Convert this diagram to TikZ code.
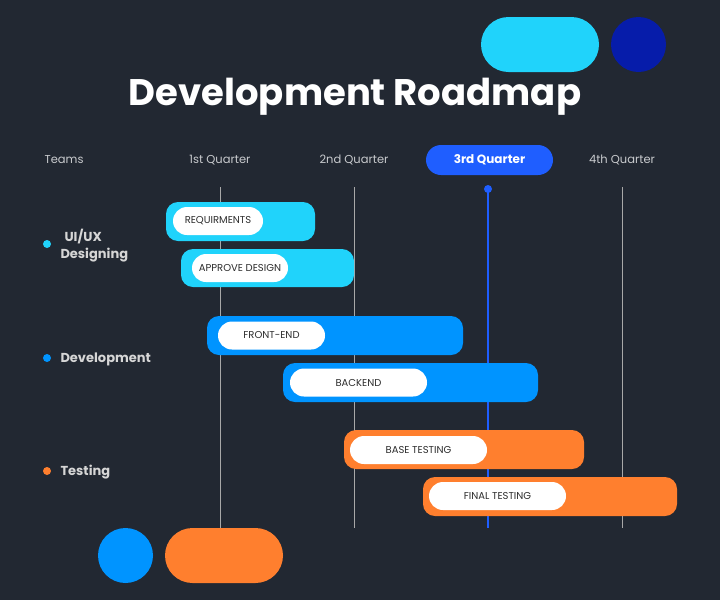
\documentclass[tikz,border=0pt]{standalone}
\usepackage{fontspec}
\setmainfont{Poppins}
\definecolor{bg}{HTML}{222832}
\definecolor{cyanbar}{HTML}{20D3FB}
\definecolor{bluebar}{HTML}{0094FF}
\definecolor{orangebar}{HTML}{FF7F2E}
\definecolor{navy}{HTML}{061CAA}
\definecolor{accent}{HTML}{1F5EFF}
\definecolor{gridgrey}{HTML}{A8A8A8}
\definecolor{headtext}{HTML}{C9CBCE}
\definecolor{teamtext}{HTML}{D6D6D6}
\definecolor{tagtext}{HTML}{2E2E2E}
\begin{document}
\begin{tikzpicture}[x=1pt,y=-1pt,
  bar/.style={rounded corners=12pt, inner sep=0pt, draw=none},
  tag/.style={fill=white, rounded corners=14pt, inner sep=0pt, minimum height=28pt,
    font=\fontsize{10}{12}\selectfont, text=tagtext},
  head/.style={font=\fontsize{11.5}{13}\selectfont, text=headtext},
  team/.style={font=\bfseries\fontsize{13}{17}\selectfont, text=teamtext, anchor=west, align=left},
  grid/.style={draw=gridgrey, line width=1pt},
  dot/.style={circle, inner sep=0pt, minimum size=8pt}]
% canvas
\fill[bg] (0,0) rectangle (720,600);
\useasboundingbox (0,0) rectangle (720,600);

% decorative shapes
\node[bar, fill=cyanbar, rounded corners=27.5pt, minimum width=118pt, minimum height=55pt] (pilltop) at (540,44.5) {};
\node[circle, fill=navy, inner sep=0pt, minimum size=55pt] (circtop) at (638.5,44.5) {};
\node[circle, fill=bluebar, inner sep=0pt, minimum size=55pt] (circbot) at (125.5,555.5) {};
\node[bar, fill=orangebar, rounded corners=27.5pt, minimum width=118pt, minimum height=55pt] (pillbot) at (224,555.5) {};

% title
\node[text=white, font=\bfseries\fontsize{37}{42}\selectfont] (title) at (355,97) {Development Roadmap};

% header row
\node[head, anchor=west] (teams) at (41,160) {Teams};
\node[head] (q1) at (220,160) {1st Quarter};
\node[head] (q2) at (354,160) {2nd Quarter};
\node[bar, fill=accent, rounded corners=15pt, minimum width=127pt, minimum height=30pt,
  text=white, font=\bfseries\fontsize{12}{14}\selectfont] (q3) at (489.5,160) {3rd Quarter};
\node[head] (q4) at (622,160) {4th Quarter};

% quarter guide lines
\coordinate (g1t) at (220,187); \coordinate (g1b) at (220,528);
\coordinate (g2t) at (354,187); \coordinate (g2b) at (354,528);
\coordinate (g4t) at (622,187); \coordinate (g4b) at (622,528);
\coordinate (g3t) at (488,189); \coordinate (g3b) at (488,528);
\draw[grid] (g1t) -- (g1b);
\draw[grid] (g2t) -- (g2b);
\draw[grid] (g4t) -- (g4b);
\draw[draw=accent, line width=1.3pt] (g3t) -- (g3b);
\node[dot, fill=accent] (now) at (g3t) {};

% teams
\node[dot, fill=cyanbar] (d1) at (47,244) {};
\node[team] (t1) at (57,245.5) {\hspace{4pt}UI/UX\\Designing};
\node[dot, fill=bluebar] (d2) at (47,358) {};
\node[team] (t2) at (57,359.5) {Development};
\node[dot, fill=orangebar] (d3) at (47,471) {};
\node[team] (t3) at (57,472.5) {Testing};

% UI/UX bars
\node[bar, fill=cyanbar, minimum width=149pt, minimum height=39pt] (b1) at (240.5,221.5) {};
\node[tag, minimum width=90pt] (l1) at (218,221) {REQUIRMENTS};
\node[bar, fill=cyanbar, minimum width=173pt, minimum height=38pt] (b2) at (267.5,268) {};
\node[tag, minimum width=96pt] (l2) at (240,268) {APPROVE DESIGN};

% development bars
\node[bar, fill=bluebar, minimum width=256pt, minimum height=39pt] (b3) at (335,335.5) {};
\node[tag, minimum width=107pt] (l3) at (271.5,335.5) {FRONT-END};
\node[bar, fill=bluebar, minimum width=255pt, minimum height=39pt] (b4) at (410.5,382.5) {};
\node[tag, minimum width=137pt] (l4) at (358.5,382.5) {BACKEND};

% testing bars
\node[bar, fill=orangebar, minimum width=240pt, minimum height=39pt] (b5) at (464,449.5) {};
\node[tag, minimum width=137pt] (l5) at (418.5,450) {BASE TESTING};
\node[bar, fill=orangebar, minimum width=254pt, minimum height=39pt] (b6) at (550,496.5) {};
\node[tag, minimum width=137pt] (l6) at (497.5,496) {FINAL TESTING};
\end{tikzpicture}
\end{document}
